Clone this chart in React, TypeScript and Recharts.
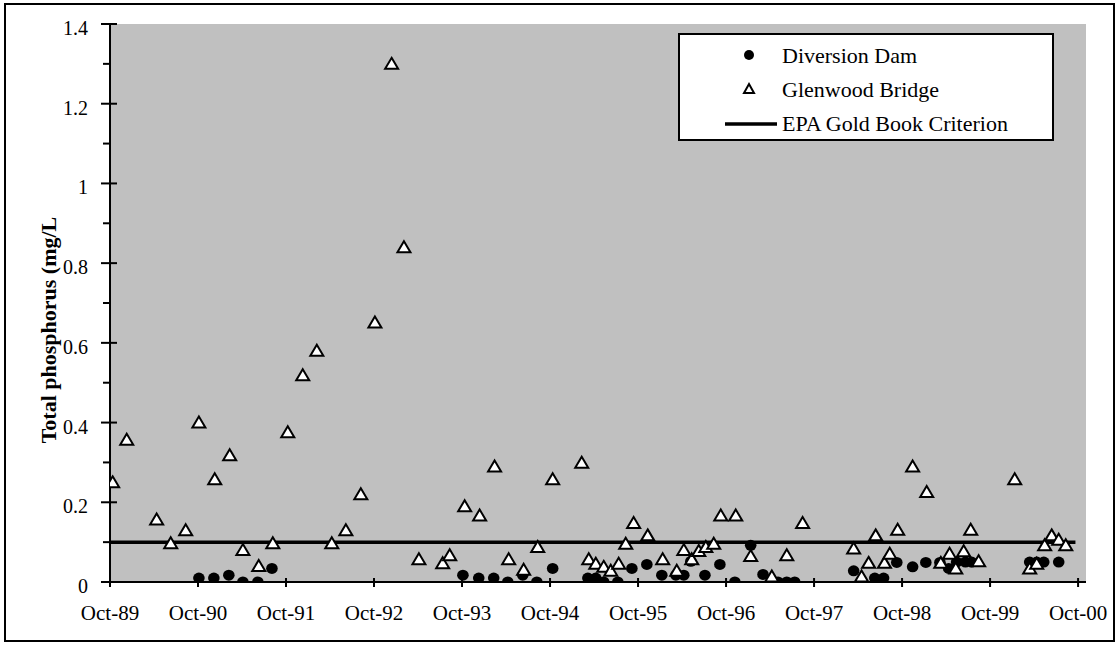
import React from 'react';
import { ComposedChart, Scatter, Line, XAxis, YAxis, CartesianGrid } from 'recharts';

// Sample dates as decimal years (Oct-89 = 1989.75)
const diversionX = [
  1990.76, 1990.93, 1991.10, 1991.26, 1991.43, 1991.59,
  1993.76, 1993.94, 1994.11, 1994.27, 1994.44, 1994.60, 1994.78,
  1995.18, 1995.27, 1995.36, 1995.52, 1995.68, 1995.85,
  1996.02, 1996.18, 1996.27, 1996.35, 1996.51, 1996.68, 1996.85,
  1997.03, 1997.17, 1997.34, 1997.44, 1997.53,
  1998.20, 1998.44, 1998.54, 1998.69, 1998.87,
  1999.02, 1999.18, 1999.28, 1999.37, 1999.47, 1999.54,
  2000.20, 2000.28, 2000.36, 2000.53,
];
const diversionY = [
  0.01, 0.01, 0.017, 0.0, 0.0, 0.034,
  0.017, 0.01, 0.01, 0.0, 0.017, 0.0, 0.034,
  0.01, 0.01, 0.0, 0.0, 0.034, 0.044,
  0.017, 0.017, 0.017, 0.052, 0.017, 0.044, 0.0,
  0.092, 0.019, 0.0, 0.0, 0.0,
  0.028, 0.01, 0.01, 0.049, 0.038,
  0.049, 0.049, 0.034, 0.05, 0.05, 0.05,
  0.05, 0.05, 0.05, 0.05,
];

const glenwoodX = [
  1989.78, 1989.94, 1990.28, 1990.44, 1990.61, 1990.76, 1990.94,
  1991.11, 1991.26, 1991.44, 1991.60, 1991.77, 1991.94,
  1992.10, 1992.27, 1992.43, 1992.60, 1992.76, 1992.95,
  1993.09, 1993.26, 1993.53, 1993.61, 1993.78, 1993.95,
  1994.12, 1994.28, 1994.45, 1994.61, 1994.78,
  1995.11, 1995.19, 1995.27, 1995.36, 1995.44, 1995.53, 1995.61, 1995.70, 1995.86,
  1996.03, 1996.19, 1996.27, 1996.36, 1996.44, 1996.52, 1996.61, 1996.69, 1996.86,
  1997.03, 1997.27, 1997.44, 1997.62,
  1998.20, 1998.29, 1998.37, 1998.45, 1998.55, 1998.61, 1998.70, 1998.87,
  1999.03, 1999.19, 1999.29, 1999.36, 1999.45, 1999.53, 1999.62,
  2000.03, 2000.20, 2000.28, 2000.37, 2000.45, 2000.53, 2000.61,
];
const glenwoodY = [
  0.25, 0.357, 0.157, 0.097, 0.13, 0.40, 0.258,
  0.318, 0.08, 0.04, 0.097, 0.376, 0.519,
  0.58, 0.097, 0.13, 0.22, 0.651, 1.30,
  0.84, 0.057, 0.047, 0.067, 0.19, 0.167,
  0.29, 0.057, 0.031, 0.088, 0.258,
  0.299, 0.057, 0.046, 0.038, 0.028, 0.046, 0.096, 0.148, 0.117,
  0.057, 0.028, 0.08, 0.057, 0.078, 0.088, 0.096, 0.167, 0.167,
  0.065, 0.014, 0.067, 0.148,
  0.084, 0.014, 0.048, 0.117, 0.048, 0.071, 0.131, 0.29,
  0.226, 0.048, 0.071, 0.034, 0.077, 0.131, 0.052,
  0.258, 0.034, 0.046, 0.092, 0.117, 0.106, 0.092,
];

const criterionX = [1989.75, 2000.72];
const criterionY = [0.1, 0.1];

const xTicks = [1989.75, 1990.75, 1991.75, 1992.75, 1993.75, 1994.75, 1995.75, 1996.75, 1997.75, 1998.75, 1999.75, 2000.75];
const xTickLabels = ['Oct-89', 'Oct-90', 'Oct-91', 'Oct-92', 'Oct-93', 'Oct-94', 'Oct-95', 'Oct-96', 'Oct-97', 'Oct-98', 'Oct-99', 'Oct-00'];
const yTicks = [0, 0.1, 0.2, 0.3, 0.4, 0.5, 0.6, 0.7, 0.8, 0.9, 1.0, 1.1, 1.2, 1.3, 1.4];
const yTickLabels = ['0', '', '0.2', '', '0.4', '', '0.6', '', '0.8', '', '1', '', '1.2', '', '1.4'];

const seriesNames = ['Diversion Dam', 'Glenwood Bridge', 'EPA Gold Book Criterion'];
const yTitle = 'Total phosphorus (mg/L';

const diversionData = diversionX.map((x, i) => ({ x, y: diversionY[i] }));
const glenwoodData = glenwoodX.map((x, i) => ({ x, y: glenwoodY[i] }));
const criterionData = criterionX.map((x, i) => ({ x, y: criterionY[i] }));

const FONT = 'Liberation Serif, Times New Roman, serif';

const DotShape = (p: any) => <ellipse cx={p.cx} cy={p.cy} rx={5.8} ry={5.5} fill="#000" />;
const TriShape = (p: any) => (
  <path
    d={`M${p.cx},${p.cy - 6} L${p.cx + 6.5},${p.cy + 5} L${p.cx - 6.5},${p.cy + 5} Z`}
    fill="#fff"
    stroke="#000"
    strokeWidth={2}
    strokeLinejoin="miter"
  />
);

const XTick = (p: any) => {
  const { x, y, index } = p;
  return (
    <g>
      <line x1={x} x2={x} y1={y - 4} y2={y + 5} stroke="#000" strokeWidth={2} />
      <text x={x} y={y + 38} textAnchor="middle" style={{ fontFamily: FONT }} fontSize={21} fill="#000">
        {xTickLabels[index]}
      </text>
    </g>
  );
};

const YTick = (p: any) => {
  const { x, y, index } = p;
  const major = index % 2 === 0;
  return (
    <g>
      <line x1={major ? x - 9 : x - 7} x2={major ? x + 7 : x} y1={y} y2={y} stroke="#000" strokeWidth={2} />
      {major && (
        <text x={x - 22} y={y + 11} textAnchor="end" style={{ fontFamily: FONT }} fontSize={20} fill="#000">
          {yTickLabels[index]}
        </text>
      )}
    </g>
  );
};

export default function App() {
  return (
    <div style={{ position: 'absolute', left: 0, top: 0, width: 1120, height: 647, background: '#fff' }}>
      <ComposedChart width={1120} height={647} margin={{ top: 24, right: 34, bottom: 25, left: 0 }}>
        <CartesianGrid fill="#C0C0C0" stroke="none" horizontal={false} vertical={false} />
        <XAxis
          type="number"
          dataKey="x"
          domain={[1989.75, 2000.84]}
          ticks={xTicks}
          interval={0}
          height={40}
          tickSize={0}
          tickMargin={0}
          axisLine={{ stroke: '#000', strokeWidth: 2 }}
          tickLine={false}
          tick={<XTick />}
          allowDataOverflow
        />
        <YAxis
          type="number"
          dataKey="y"
          domain={[0, 1.4]}
          ticks={yTicks}
          interval={0}
          width={110}
          tickSize={0}
          tickMargin={0}
          axisLine={{ stroke: '#000', strokeWidth: 2 }}
          tickLine={false}
          tick={<YTick />}
          allowDataOverflow
        />
        <Line
          data={criterionData}
          dataKey="y"
          stroke="#000"
          strokeWidth={3.5}
          dot={false}
          activeDot={false}
          isAnimationActive={false}
          name={seriesNames[2]}
        />
        <Scatter data={diversionData} dataKey="y" shape={DotShape} isAnimationActive={false} name={seriesNames[0]} />
        <Scatter data={glenwoodData} dataKey="y" shape={TriShape} isAnimationActive={false} name={seriesNames[1]} />
      </ComposedChart>
      <svg
        width={1120}
        height={647}
        style={{ position: 'absolute', left: 0, top: 0, pointerEvents: 'none', fontFamily: FONT }}
      >
        <rect x={5} y={4} width={1109} height={637} fill="none" stroke="#000" strokeWidth={2} />
        <text
          x={56}
          y={330}
          transform="rotate(-90, 56, 330)"
          textAnchor="middle"
          fontWeight="bold"
          fontSize={22}
          fill="#000"
        >
          {yTitle}
        </text>
        <rect x={679} y={34} width={374} height={106} fill="#fff" stroke="#000" strokeWidth={2} />
        <circle cx={749} cy={55} r={5} fill="#000" />
        <text x={782} y={63} fontSize={22} fill="#000">{seriesNames[0]}</text>
        <path d="M749,84 L754,93 L744,93 Z" fill="#fff" stroke="#000" strokeWidth={2} />
        <text x={782} y={97} fontSize={22} fill="#000">{seriesNames[1]}</text>
        <line x1={725} x2={777} y1={124} y2={124} stroke="#000" strokeWidth={3.5} />
        <text x={782} y={131} fontSize={22} fill="#000">{seriesNames[2]}</text>
      </svg>
    </div>
  );
}
